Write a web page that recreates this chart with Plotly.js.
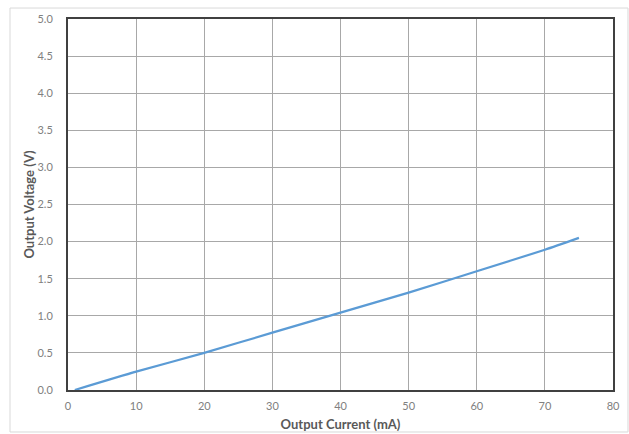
<!DOCTYPE html>
<html>
<head>
<meta charset="utf-8">
<script src="https://cdn.plot.ly/plotly-3.0.1.min.js"></script>
<style>
html,body{margin:0;padding:0;background:#fff;}
#chart{width:629px;height:434px;}
</style>
</head>
<body>
<div id="chart"></div>
<script>
const currentMA = [1, 10, 20, 30, 40, 50, 60, 70, 75];
const voltageV = [0, 0.247, 0.5, 0.773, 1.043, 1.313, 1.60, 1.89, 2.05];
const xTicks = [0, 10, 20, 30, 40, 50, 60, 70, 80];
const yTicks = [0, 0.5, 1, 1.5, 2, 2.5, 3, 3.5, 4, 4.5, 5];
const yTickText = yTicks.map(v => v.toFixed(1));

const trace = {
  x: currentMA, y: voltageV, type: 'scatter', mode: 'lines',
  line: {color: '#5B9BD5', width: 2.2, shape: 'spline', smoothing: 0.6},
  hoverinfo: 'skip'
};

const tickFont = {family: 'Lato, "Open Sans", sans-serif', size: 11, color: '#808080'};
const titleFont = {family: 'Lato, "Open Sans", sans-serif', size: 13, color: '#595959', weight: 'bold'};

const layout = {
  width: 629, height: 434,
  margin: {l: 68, r: 16, t: 19, b: 44},
  paper_bgcolor: '#ffffff', plot_bgcolor: '#ffffff',
  showlegend: false,
  xaxis: {
    range: [0, 80], tickvals: xTicks, ticktext: xTicks.map(String),
    showgrid: true, gridcolor: '#a8a8a8', gridwidth: 1,
    showline: true, linecolor: '#404040', linewidth: 2, mirror: true,
    zeroline: false, ticks: '', tickfont: tickFont, ticklabelstandoff: 5,
    title: {text: 'Output Current (mA)', font: titleFont, standoff: 9},
    automargin: false
  },
  yaxis: {
    range: [0, 5], tickvals: yTicks, ticktext: yTickText,
    showgrid: true, gridcolor: '#a8a8a8', gridwidth: 1,
    showline: true, linecolor: '#404040', linewidth: 2, mirror: true,
    zeroline: false, ticks: '', tickfont: tickFont, ticklabelstandoff: 11,
    title: {text: 'Output Voltage (V)', font: titleFont, standoff: 0},
    automargin: false
  },
  shapes: [{
    type: 'rect', xref: 'paper', yref: 'paper',
    x0: -0.1064, x1: 1.0275, y0: -0.1132, y1: 1.0296,
    line: {color: '#d9d9d9', width: 1}, fillcolor: 'rgba(0,0,0,0)', layer: 'below'
  }]
};

Plotly.newPlot('chart', [trace], layout, {displayModeBar: false, staticPlot: true});
</script>
</body>
</html>
